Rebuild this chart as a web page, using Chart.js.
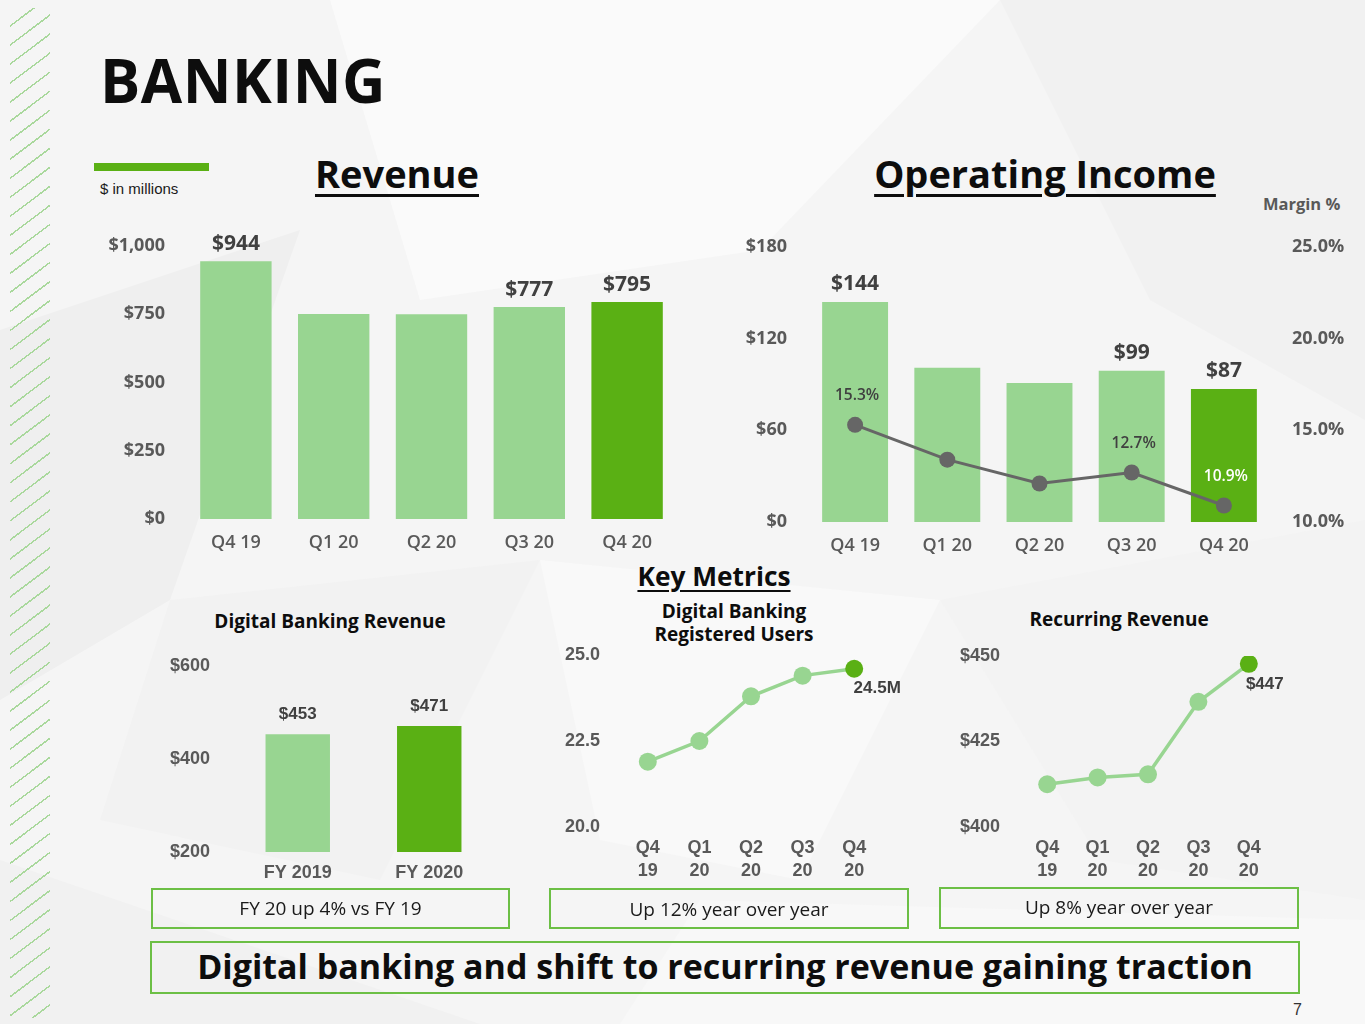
<!DOCTYPE html>
<html>
<head>
<meta charset="utf-8">
<script src="https://cdn.jsdelivr.net/npm/chart.js@4.4.1/dist/chart.umd.min.js"></script>
<style>
  html, body { margin: 0; padding: 0; }
  body { width: 1365px; height: 1024px; overflow: hidden; font-family: 'Open Sans', sans-serif; }
  #slide { position: relative; width: 1365px; height: 1024px; background: #f5f5f5; overflow: hidden; }
  #bg { position: absolute; left: 0; top: 0; }
  .abs { position: absolute; white-space: nowrap; line-height: 1; }
  .stripes {
    left: 10px; top: 8px; width: 40px; height: 1010px;
    background: repeating-linear-gradient(143deg, transparent 0, transparent 13.7px, #a9d89c 13.7px, #a9d89c 15.2px);
  }
  .h1 { left: 100px; top: 50px; font-size: 60px; font-weight: 700; color: #0d0d0d; letter-spacing: 0.5px; }
  .sec { font-size: 38px; font-weight: 700; color: #0d0d0d; text-decoration: underline; text-decoration-thickness: 3px; text-underline-offset: 6px; text-align: center; }
  .sub { font-size: 19px; font-weight: 700; color: #0d0d0d; text-align: center; }
  .box { position: absolute; border: 2px solid #6cbf45; box-sizing: border-box; text-align: center; color: #1a1a1a; }
  canvas { position: absolute; }
</style>
</head>
<body>
<div id="slide">
  <svg id="bg" width="1365" height="1024" viewBox="0 0 1365 1024">
    <polygon points="330,0 1000,0 760,250 420,300" fill="#fafafa"/>
    <polygon points="0,330 300,230 170,600 0,700" fill="#efefef"/>
    <polygon points="170,600 540,560 380,880 100,820" fill="#f2f2f2"/>
    <polygon points="1000,0 1365,0 1365,420 1150,300" fill="#f1f1f1"/>
    <polygon points="540,560 940,600 800,880 600,840" fill="#f9f9f9"/>
    <polygon points="940,600 1365,520 1365,900 1100,860" fill="#f3f3f3"/>
    <polygon points="0,860 480,1024 0,1024" fill="#f1f1f1"/>
    <polygon points="700,900 1365,920 1365,1024 620,1024" fill="#f8f8f8"/>
  </svg>

  <div class="abs stripes"></div>
  <div class="abs h1">BANKING</div>

  <div class="abs" style="left:94px;top:163px;width:115px;height:8px;background:#5ab014;"></div>
  <div class="abs" style="left:100px;top:181px;font-family:'Liberation Sans',Arial,sans-serif;font-size:15px;color:#1a1a1a;">$ in millions</div>

  <div class="abs sec" style="left:247px;top:154px;width:300px;">Revenue</div>
  <div class="abs sec" style="left:845px;top:154px;width:400px;">Operating Income</div>
  <div class="abs" style="left:1263px;top:196px;font-size:16.5px;font-weight:700;color:#595959;">Margin %</div>

  <div class="abs sec" style="left:564px;top:563px;width:300px;font-size:26.3px;text-underline-offset:4px;text-decoration-thickness:2px;">Key Metrics</div>
  <div class="abs sub" style="left:180px;top:612px;width:300px;">Digital Banking Revenue</div>
  <div class="abs sub" style="left:584px;top:600px;width:300px;line-height:23px;">Digital Banking<br>Registered Users</div>
  <div class="abs sub" style="left:969px;top:610px;width:300px;">Recurring Revenue</div>

  <canvas id="revenue" width="600" height="340" style="left:90px;top:227px;"></canvas>
  <canvas id="opincome" width="635" height="340" style="left:730px;top:227px;"></canvas>
  <canvas id="dbrevenue" width="380" height="250" style="left:150px;top:642px;"></canvas>
  <canvas id="users" width="380" height="245" style="left:540px;top:642px;"></canvas>
  <canvas id="recurring" width="380" height="245" style="left:940px;top:642px;"></canvas>

  <div class="box" style="left:151px;top:888px;width:359px;height:41px;line-height:36px;font-size:19px;">FY 20 up 4% vs FY 19</div>
  <div class="box" style="left:549px;top:888px;width:360px;height:41px;line-height:38px;font-size:19px;">Up 12% year over year</div>
  <div class="box" style="left:939px;top:887px;width:360px;height:42px;line-height:36px;font-size:19px;">Up 8% year over year</div>
  <div class="box" style="left:150px;top:941px;width:1150px;height:53px;line-height:46px;font-size:34px;font-weight:700;color:#0d0d0d;">Digital banking and shift to recurring revenue gaining traction</div>

  <div class="abs" style="left:1293px;top:1002px;font-family:'Liberation Sans',Arial,sans-serif;font-size:16px;color:#333;">7</div>
</div>

<script>
// quarters shown on the top charts and the small line charts
const quarters = ['Q4 19', 'Q1 20', 'Q2 20', 'Q3 20', 'Q4 20'];

// Revenue, $ in millions
const revenue = [944, 751, 750, 777, 795];
const revenueLabelled = [true, false, false, true, true];
const revenueTicks = [0, 250, 500, 750, 1000];

// Operating income and margin
const opIncome = [144, 101, 91, 99, 87];
const opIncomeLabelled = [true, false, false, true, true];
const opMargin = [15.3, 13.4, 12.1, 12.7, 10.9];
const opMarginLabelled = [true, false, false, true, true];
const opIncomeTicks = [0, 60, 120, 180];
const marginTicks = [10, 15, 20, 25];

// Key metrics
const fiscalYears = ['FY 2019', 'FY 2020'];
const dbRevenue = [453, 471];
const dbRevenueTicks = [200, 400, 600];

const users = [21.9, 22.5, 23.8, 24.4, 24.6];
const usersLastLabel = '24.5M';
const usersTicks = [20.0, 22.5, 25.0];

const recurring = [412.5, 414.5, 415.4, 436.6, 447.7];
const recurringLastLabel = '$447';
const recurringTicks = [400, 425, 450];

const LIGHT = '#98d591';
const DARK = '#5ab014';
const GREY_TICK = '#595959';
const GREY_LABEL = '#404040';
const OPEN = "'Open Sans', sans-serif";
const ARIAL = "'Liberation Sans', Arial, sans-serif";

const lastDark = ctx => ctx.dataIndex === ctx.dataset.data.length - 1 ? DARK : LIGHT;

// draws text next to bars / points, positions come from the chart elements
const valueLabels = {
  id: 'valueLabels',
  afterDatasetsDraw(chart, args, opts) {
    const ctx = chart.ctx;
    (opts.sets || []).forEach(s => {
      const meta = chart.getDatasetMeta(s.dataset);
      meta.data.forEach((el, i) => {
        const text = s.texts[i];
        if (!text) return;
        ctx.save();
        ctx.font = s.font;
        ctx.fillStyle = Array.isArray(s.color) ? s.color[i] : s.color;
        ctx.textAlign = 'center';
        ctx.textBaseline = 'middle';
        ctx.fillText(text, el.x + (s.dx || 0), el.y + s.dy);
        ctx.restore();
      });
    });
  }
};

function fixedTicks(values) {
  return function (scale) {
    scale.ticks = values.map(v => ({ value: v }));
  };
}

// keep the plot area where the layout padding puts it
function noPadding(s) {
  s.paddingTop = 0;
  s.paddingBottom = 0;
  s.paddingLeft = 0;
  s.paddingRight = 0;
}

function yAxis(opts) {
  return {
    position: opts.position || 'left',
    min: opts.ticks[0],
    max: opts.ticks[opts.ticks.length - 1],
    grid: { display: false, drawTicks: false },
    border: { display: false },
    afterBuildTicks: fixedTicks(opts.ticks),
    afterFit: s => { s.width = opts.width; noPadding(s); },
    ticks: {
      padding: opts.padding,
      color: GREY_TICK,
      font: opts.font,
      callback: opts.format
    }
  };
}

function xAxis(opts) {
  return {
    offset: true,
    grid: { display: false, drawTicks: false },
    border: { display: false },
    afterFit: s => { s.height = opts.height; noPadding(s); },
    ticks: {
      padding: opts.padding,
      color: GREY_TICK,
      font: opts.font,
      maxRotation: 0,
      autoSkip: false
    }
  };
}

const baseOptions = {
  responsive: false,
  animation: false,
  events: [],
  plugins: { legend: { display: false }, tooltip: { enabled: false } }
};

Chart.register(valueLabels);

// Revenue
new Chart(document.getElementById('revenue'), {
  type: 'bar',
  data: {
    labels: quarters,
    datasets: [{
      data: revenue,
      backgroundColor: lastDark,
      barPercentage: 0.73,
      categoryPercentage: 1
    }]
  },
  options: {
    ...baseOptions,
    layout: { padding: { top: 19, right: 14, left: 0, bottom: 0 } },
    scales: {
      x: xAxis({ height: 48, padding: 13, font: { family: OPEN, size: 18, weight: 600 } }),
      y: yAxis({ ticks: revenueTicks, width: 97, padding: 22,
        font: { family: OPEN, size: 18, weight: 700 },
        format: v => '$' + v.toLocaleString('en-US') })
    },
    plugins: {
      ...baseOptions.plugins,
      valueLabels: { sets: [{
        dataset: 0, dy: -17, color: GREY_LABEL,
        font: `700 21px ${OPEN}`,
        texts: revenue.map((v, i) => revenueLabelled[i] ? '$' + v : '')
      }] }
    }
  }
});

// Operating income with margin line
new Chart(document.getElementById('opincome'), {
  type: 'bar',
  data: {
    labels: quarters,
    datasets: [
      {
        type: 'line',
        data: opMargin,
        yAxisID: 'y1',
        borderColor: '#666666',
        borderWidth: 3,
        pointRadius: 8,
        pointBackgroundColor: '#666666',
        pointBorderWidth: 0,
        order: 0
      },
      {
        type: 'bar',
        data: opIncome,
        yAxisID: 'y',
        backgroundColor: lastDark,
        barPercentage: 0.715,
        categoryPercentage: 1,
        order: 1
      }
    ]
  },
  options: {
    ...baseOptions,
    layout: { padding: { top: 20, right: 0, left: 0, bottom: 0 } },
    scales: {
      x: xAxis({ height: 45, padding: 13, font: { family: OPEN, size: 18, weight: 600 } }),
      y: yAxis({ ticks: opIncomeTicks, width: 79, padding: 22,
        font: { family: OPEN, size: 18, weight: 700 },
        format: v => '$' + v }),
      y1: yAxis({ ticks: marginTicks, width: 95, padding: 22, position: 'right',
        font: { family: OPEN, size: 18, weight: 700 },
        format: v => v.toFixed(1) + '%' })
    },
    plugins: {
      ...baseOptions.plugins,
      valueLabels: { sets: [
        {
          dataset: 1, dy: -18, color: GREY_LABEL,
          font: `700 21px ${OPEN}`,
          texts: opIncome.map((v, i) => opIncomeLabelled[i] ? '$' + v : '')
        },
        {
          dataset: 0, dy: -29, dx: 2,
          color: opMargin.map((v, i) => i === opMargin.length - 1 ? '#ffffff' : GREY_LABEL),
          font: `600 15.5px ${OPEN}`,
          texts: opMargin.map((v, i) => opMarginLabelled[i] ? v.toFixed(1) + '%' : '')
        }
      ] }
    }
  }
});

// Digital banking revenue
new Chart(document.getElementById('dbrevenue'), {
  type: 'bar',
  data: {
    labels: fiscalYears,
    datasets: [{
      data: dbRevenue,
      backgroundColor: lastDark,
      barPercentage: 0.49,
      categoryPercentage: 1
    }]
  },
  options: {
    ...baseOptions,
    layout: { padding: { top: 24, right: 35, left: 0, bottom: 0 } },
    scales: {
      x: xAxis({ height: 40, padding: 10, font: { family: ARIAL, size: 18, weight: 700 } }),
      y: yAxis({ ticks: dbRevenueTicks, width: 82, padding: 22,
        font: { family: ARIAL, size: 18, weight: 700 },
        format: v => '$' + v })
    },
    plugins: {
      ...baseOptions.plugins,
      valueLabels: { sets: [{
        dataset: 0, dy: -20, color: GREY_LABEL,
        font: `700 17px ${ARIAL}`,
        texts: dbRevenue.map(v => '$' + v)
      }] }
    }
  }
});

function smallLine(id, values, ticks, format, lastLabel, pad, dx) {
  new Chart(document.getElementById(id), {
    type: 'line',
    data: {
      labels: quarters.map(q => q.split(' ')),
      datasets: [{
        data: values,
        borderColor: LIGHT,
        borderWidth: 3.5,
        pointRadius: 9,
        pointBackgroundColor: lastDark,
        pointBorderWidth: 0
      }]
    },
    options: {
      ...baseOptions,
      layout: { padding: pad },
      scales: {
        x: xAxis({ height: 60, padding: 9.5,
          font: { family: ARIAL, size: 18, weight: 700, lineHeight: 1.28 } }),
        y: yAxis({ ticks: ticks, width: 82, padding: 22,
          font: { family: ARIAL, size: 18, weight: 700 },
          format: format })
      },
      plugins: {
        ...baseOptions.plugins,
        valueLabels: { sets: [{
          dataset: 0, dy: 20, dx: dx, color: GREY_LABEL,
          font: `700 17px ${ARIAL}`,
          texts: values.map((v, i) => i === values.length - 1 ? lastLabel : '')
        }] }
      }
    }
  });
}

smallLine('users', users, usersTicks, v => v.toFixed(1), usersLastLabel,
  { top: 13, right: 40, left: 0, bottom: 0 }, 23);
smallLine('recurring', recurring, recurringTicks, v => '$' + v, recurringLastLabel,
  { top: 14, right: 46, left: 0, bottom: 0 }, 16);
</script>
</body>
</html>
